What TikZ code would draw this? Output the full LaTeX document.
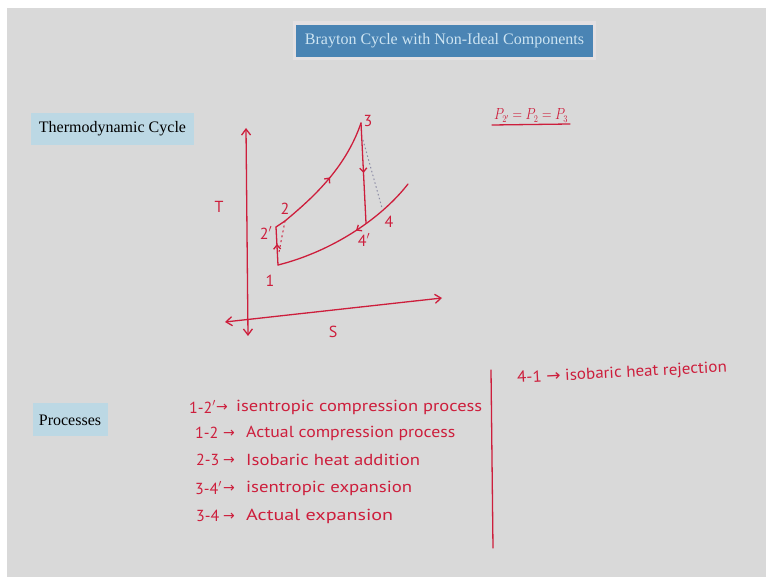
\documentclass[tikz,border=0pt]{standalone}
\usepackage{fontspec}
\setmainfont{Liberation Serif}
\newfontfamily\hand{PT Sans}
\newfontfamily\arr{DejaVu Sans}
\usetikzlibrary{arrows.meta,decorations.markings}
\definecolor{bg}{RGB}{217,217,217}
\definecolor{ink}{RGB}{205,30,60}
\definecolor{titlebg}{RGB}{74,132,180}
\definecolor{titlefg}{RGB}{205,228,242}
\definecolor{lbl}{RGB}{188,216,228}
\definecolor{glow}{RGB}{228,224,226}
\definecolor{dotgray}{RGB}{140,140,165}
\newcommand{\hwfit}[2]{\resizebox{#1}{\height}{#2}}
\begin{document}
\begin{tikzpicture}[x=1pt,y=-1pt,
  hw/.style={text=ink, font=\hand\fontsize{16}{16}\selectfont, inner sep=0pt},
  hwarr/.style={text=ink, font=\arr\fontsize{14}{14}\selectfont, inner sep=0pt, anchor=west},
  pen/.style={draw=ink, line width=1.3pt, line cap=round, line join=round},
  axisarrow/.style={pen, {Straight Barb[length=6pt,width=9pt]}-{Straight Barb[length=6pt,width=9pt]}},
  midarrow/.style={postaction={decorate, decoration={markings,
      mark=at position #1 with {\arrow[ink,line width=1.3pt]{Straight Barb[length=4pt,width=7pt]}}}}},
  labelbox/.style={fill=lbl, text=black, font=\fontsize{16}{16}\selectfont, inner sep=0pt, anchor=center}
]
\useasboundingbox (0,0) rectangle (766,577);
\fill[white] (0,0) rectangle (766,577);
\fill[bg] (7,8) rectangle (766,577);

% title
\fill[glow] (293,21) rectangle (596,60);
\fill[titlebg] (296,25) rectangle (593,57);
\node[text=titlefg, font=\fontsize{16}{16}\selectfont, inner sep=0pt] (title) at (444.5,41) {Brayton Cycle with Non-Ideal Components};

% section boxes
\fill[lbl] (31,113) rectangle (194,145);
\node[labelbox] (thermo) at (112.5,129) {Thermodynamic Cycle};
\fill[lbl] (33,403) rectangle (108,436);
\node[labelbox] (proc) at (70,420) {Processes};

% axes
\coordinate (Tbot) at (248,336);
\coordinate (Ttop) at (246,128);
\coordinate (Sl) at (225,322);
\coordinate (Sr) at (442,298);
\draw[axisarrow] (Tbot) -- (Ttop);
\draw[axisarrow] (Sl) -- (Sr);
\node[hw] (Tl) at (219,207) {T};
\node[hw] (Sl2) at (333,332) {S};

% state points
\coordinate (p1) at (278,265);
\coordinate (p2s) at (276,227);
\coordinate (p2) at (285,221);
\coordinate (p3) at (361,123);
\coordinate (p4s) at (366,223);
\coordinate (p4) at (382,208);
\coordinate (pend) at (408,184);

\draw[pen, midarrow=0.55] (p1) -- (p2s);
\draw[pen] (p2s) -- (p2);
\draw[pen, midarrow=0.5] (p2) .. controls (310,200) and (345,170) .. (p3);
\draw[pen, midarrow=0.5] (p3) -- (p4s);
\draw[pen, midarrow=0.45] (pend) .. controls (380,220) and (330,252) .. (p1);
\draw[ink, line width=1pt, dash pattern=on 2pt off 3pt] (279,252) -- (p2);
\draw[dotgray, line width=1pt, dash pattern=on 1.5pt off 2.5pt] (363,140) -- (p4);

\node[hw] (l1) at (270,281) {1};
\node[hw] (l2s) at (266,233) {2$'$};
\node[hw] (l2) at (285,209) {2};
\node[hw] (l3) at (368,121) {3};
\node[hw] (l4s) at (364,240) {4$'$};
\node[hw] (l4) at (389,222) {4};

% pressure relation
\node[hw, anchor=base] (prel) at (531,120) {\resizebox{74pt}{11pt}{$P_{2'} = P_2 = P_3$}};
\coordinate (u1) at (492,125);
\coordinate (u2) at (570,124);
\draw[pen] (u1) -- (u2);

% processes
\node[hw, anchor=west] (a1) at (189,407) {1-2$'$};
\node[hwarr] (r1) at (216,408) {→};
\node[hw, anchor=west] (b1) at (236,407) {\hwfit{246pt}{isentropic compression process}};
\node[hw, anchor=west] (a2) at (195,433) {1-2};
\node[hwarr] (r2) at (223,434) {→};
\node[hw, anchor=west] (b2) at (246,433) {\hwfit{209pt}{Actual compression process}};
\node[hw, anchor=west] (a3) at (196,460) {2-3};
\node[hwarr] (r3) at (223,461) {→};
\node[hw, anchor=west] (b3) at (246,460) {\hwfit{174pt}{Isobaric heat addition}};
\node[hw, anchor=west] (a4) at (195,488) {3-4$'$};
\node[hwarr] (r4) at (223,489) {→};
\node[hw, anchor=west] (b4) at (246,488) {\hwfit{166pt}{isentropic expansion}};
\node[hw, anchor=west] (a5) at (196,516) {3-4};
\node[hwarr] (r5) at (223,517) {→};
\node[hw, anchor=west] (b5) at (246,516) {\hwfit{147pt}{Actual expansion}};

\coordinate (sepTop) at (491,370);
\coordinate (sepBot) at (493,548);
\draw[pen] (sepTop) -- (sepBot);

\node[hw, anchor=west, rotate=3] (c1) at (517,379) {\hwfit{210pt}{4-1 {\arr →} isobaric heat rejection}};
\end{tikzpicture}
\end{document}
